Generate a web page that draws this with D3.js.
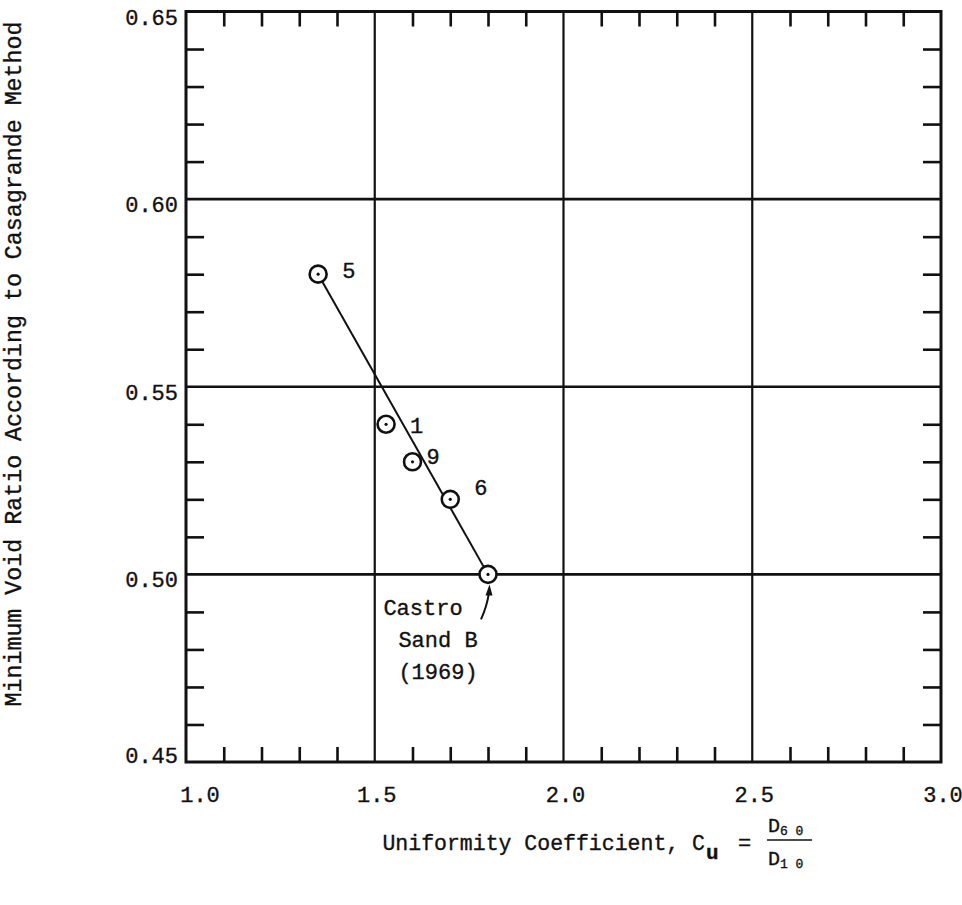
<!DOCTYPE html>
<html>
<head>
<meta charset="utf-8"/>
<title>Minimum void ratio vs uniformity coefficient</title>
<script src="https://cdn.jsdelivr.net/npm/d3@7"></script>
<style>
  body { margin: 0; background: #fff; }
  svg text { font-family: "Liberation Mono", "Courier New", monospace; fill: #111; stroke: #111; stroke-width: 0.35px; }
</style>
</head>
<body>
<div id="chart"></div>
<script>
// data
var sandIds   = ["5", "1", "9", "6", "Castro"];
var cuValues  = [1.35, 1.53, 1.60, 1.70, 1.80];
var eMinValues = [0.58, 0.54, 0.53, 0.52, 0.50];
var trendCu = [1.35, 1.80];
var trendE  = [0.58, 0.50];
var xTickValues = [1.0, 1.5, 2.0, 2.5, 3.0];
var yTickValues = [0.45, 0.50, 0.55, 0.60, 0.65];
var castroLines = ["Castro", "Sand B", "(1969)"];

var width = 962, height = 905;
var pLeft = 186, pRight = 941, pTop = 11.5, pBottom = 762;

var svg = d3.select("#chart").append("svg")
    .attr("width", width)
    .attr("height", height);

var x = d3.scaleLinear().domain([1.0, 3.0]).range([pLeft, pRight]);
var y = d3.scaleLinear().domain([0.45, 0.65]).range([pBottom, pTop]);

var ink = "#111";

// grid lines at the labelled values (not on the frame)
svg.append("g").selectAll("line")
  .data(xTickValues.slice(1, -1))
  .enter().append("line")
    .attr("x1", function(d){ return x(d); })
    .attr("x2", function(d){ return x(d); })
    .attr("y1", pTop).attr("y2", pBottom)
    .attr("stroke", ink).attr("stroke-width", 2.2);

svg.append("g").selectAll("line")
  .data(yTickValues.slice(1, -1))
  .enter().append("line")
    .attr("y1", function(d){ return y(d); })
    .attr("y2", function(d){ return y(d); })
    .attr("x1", pLeft).attr("x2", pRight)
    .attr("stroke", ink).attr("stroke-width", 2.6);

// minor ticks, inward on all four sides
var xMinor = d3.range(1.1, 3.0, 0.1).filter(function(d){ return Math.abs(d*2 - Math.round(d*2)) > 0.01; });
var yMinor = d3.range(0.46, 0.65, 0.01).filter(function(d){ return Math.abs(d*20 - Math.round(d*20)) > 0.01; });

svg.append("g").attr("transform", "translate(0," + pBottom + ")")
  .call(d3.axisTop(x).tickValues(xMinor).tickSize(15).tickFormat(""));
svg.append("g").attr("transform", "translate(0," + pTop + ")")
  .call(d3.axisBottom(x).tickValues(xMinor).tickSize(15).tickFormat(""));
svg.append("g").attr("transform", "translate(" + pLeft + ",0)")
  .call(d3.axisRight(y).tickValues(yMinor).tickSize(18).tickFormat(""));
svg.append("g").attr("transform", "translate(" + pRight + ",0)")
  .call(d3.axisLeft(y).tickValues(yMinor).tickSize(18).tickFormat(""));

svg.selectAll(".domain").remove();
svg.selectAll(".tick line").attr("stroke", ink).attr("stroke-width", 2.6);

// frame
svg.append("rect")
    .attr("x", pLeft).attr("y", pTop)
    .attr("width", pRight - pLeft).attr("height", pBottom - pTop)
    .attr("fill", "none").attr("stroke", ink).attr("stroke-width", 3);

// tick labels
svg.append("g").selectAll("text")
  .data(xTickValues)
  .enter().append("text")
    .attr("x", function(d, i){ return x(d) + (i == 0 ? 14 : 2); })
    .attr("y", pBottom + 40)
    .attr("text-anchor", "middle")
    .attr("font-size", 22)
    .text(function(d){ return d.toFixed(1); });

svg.append("g").selectAll("text")
  .data(yTickValues)
  .enter().append("text")
    .attr("x", pLeft - 8)
    .attr("y", function(d, i){ return y(d) + (i == 0 ? 1 : 13); })
    .attr("text-anchor", "end")
    .attr("font-size", 22)
    .text(function(d){ return d.toFixed(2); });

// axis titles
svg.append("text")
    .attr("transform", "translate(21,364) rotate(-90)")
    .attr("text-anchor", "middle")
    .attr("font-size", 23.3)
    .attr("stroke-width", 0.2)
    .text("Minimum Void Ratio According to Casagrande Method");

svg.append("text")
    .attr("x", 705).attr("y", 850)
    .attr("text-anchor", "end")
    .attr("font-size", 21.5)
    .text("Uniformity Coefficient, C");
svg.append("text").attr("x", 706).attr("y", 859).attr("font-size", 21).attr("font-weight", "bold").text("u");
svg.append("text").attr("x", 738).attr("y", 850).attr("font-size", 22).text("=");
svg.append("text").attr("x", 768).attr("y", 832).attr("font-size", 20).text("D")
  .append("tspan").attr("dy", 3).attr("font-size", 13).text("6 0");
svg.append("line").attr("x1", 767).attr("x2", 812).attr("y1", 840).attr("y2", 840)
    .attr("stroke", ink).attr("stroke-width", 1.5);
svg.append("text").attr("x", 768).attr("y", 865).attr("font-size", 20).text("D")
  .append("tspan").attr("dy", 3).attr("font-size", 13).text("1 0");

// trend line
var line = d3.line()
    .x(function(d){ return x(d[0]); })
    .y(function(d){ return y(d[1]); });
svg.append("path")
    .datum(d3.zip(trendCu, trendE))
    .attr("d", line)
    .attr("fill", "none").attr("stroke", ink).attr("stroke-width", 2);

// points
var pts = svg.append("g").selectAll("g")
  .data(d3.zip(sandIds, cuValues, eMinValues))
  .enter().append("g")
    .attr("transform", function(d){ return "translate(" + x(d[1]) + "," + y(d[2]) + ")"; });
pts.append("circle").attr("r", 8.5).attr("fill", "#fff").attr("stroke", ink).attr("stroke-width", 2.6);
pts.append("circle").attr("r", 1.6).attr("fill", ink);

// point numbers
var labelShift = { "5": [24, 4], "1": [24, 9], "9": [14, 2], "6": [24, -4] };
pts.filter(function(d){ return d[0] != "Castro"; })
  .append("text")
    .attr("x", function(d){ return labelShift[d[0]][0]; })
    .attr("y", function(d){ return labelShift[d[0]][1]; })
    .attr("font-size", 22)
    .text(function(d){ return d[0]; });

// Castro Sand B annotation
var castro = pts.filter(function(d){ return d[0] == "Castro"; });
castro.append("g").selectAll("text")
  .data(castroLines)
  .enter().append("text")
    .attr("x", function(d, i){ return i == 0 ? -65 : -50; })
    .attr("y", function(d, i){ return 41 + i * 32; })
    .attr("text-anchor", "middle")
    .attr("font-size", 22)
    .text(function(d){ return d; });
castro.append("path")
    .attr("d", "M-7,45 Q-1,32 1,18")
    .attr("fill", "none").attr("stroke", ink).attr("stroke-width", 2);
castro.append("path")
    .attr("d", "M1.5,10 L-2.5,21 L4.5,21 Z")
    .attr("fill", ink);
</script>
</body>
</html>
